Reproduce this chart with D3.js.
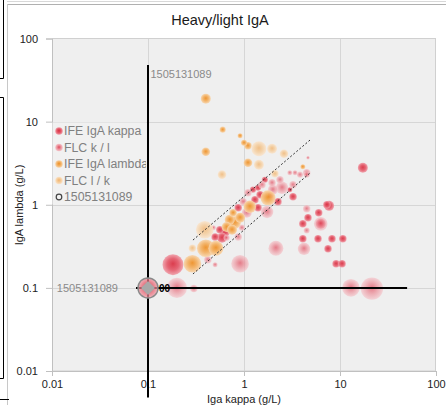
<!DOCTYPE html>
<html><head><meta charset="utf-8">
<script src="https://cdn.jsdelivr.net/npm/d3@7/dist/d3.min.js"></script>
<style>
html,body{margin:0;padding:0;background:#fff;}
svg{display:block;font-family:"Liberation Sans",Arial,Helvetica,sans-serif;}
</style></head>
<body>
<svg id="c" width="446" height="405"></svg>
<script>
// ---------- data ----------
const title = "Heavy/light IgA";
const xTitle = "Iga kappa (g/L)";
const yTitle = "IgA lambda (g/L)";
const tickValues = [0.01, 0.1, 1, 10, 100];
const tickLabels = ["0.01", "0.1", "1", "10", "100"];
const seriesNames = ["IFE IgA kappa", "FLC k / l", "IFE IgA lambda", "FLC l / k", "1505131089"];

// [x, y, size]
const ifeKappa = [
  [1.65,2.0,6],[1.24,1.52,6],[3.0,1.52,4],[1.47,1.32,9],[2.26,1.09,9],[3.24,1.25,9],
  [1.3,1.15,9],[1.4,0.92,9],[0.87,0.92,9],[0.56,0.50,9],[0.63,0.47,16],[0.5,0.41,9],
  [0.59,0.40,16],[7.3,1.0,9],[17.3,2.79,16],[7.7,0.97,16],[6.0,0.80,9],[4.64,0.70,9],
  [4.1,0.59,9],[6.3,0.59,16],[4.1,0.39,9],[5.9,0.39,9],[8.25,0.39,9],[10.7,0.39,9],
  [7.5,0.295,9],[9.1,0.195,9],[10.5,0.195,9],[0.182,0.19,70],[1.4,1.6,6],[1.9,1.3,6]
];
const flcKL = [
  [3.0,2.43,4],[3.4,2.43,4],[3.83,2.3,6],[4.5,2.43,9],[4.64,3.68,2],[1.96,1.84,9],
  [2.37,2.0,9],[1.54,1.74,9],[2.0,1.52,16],[2.49,1.6,25],[3.24,1.74,9],[1.1,1.39,9],
  [0.98,1.09,9],[1.74,0.82,25],[1.07,0.80,16],[0.48,0.53,4],[0.66,0.40,6],[0.87,0.41,9],
  [0.95,0.53,6],[0.42,0.218,9],[0.5,0.19,4],[0.91,0.195,50],[2.15,0.30,36],[4.22,0.295,25],
  [4.5,0.895,9],[4.5,2.3,6],[4.5,0.49,6],[13,0.10,50],[21.5,0.098,80],[0.2,0.10,65],
  [0.30,0.098,9],[6.3,0.59,30]
];
const ifeLambda = [
  [0.40,18.9,16],[0.6,8.0,6],[0.91,6.77,4],[1.0,5.57,6],[1.1,5.13,9],[0.40,4.34,12],
  [1.1,3.2,12],[1.78,1.21,36],[1.15,0.946,25],[0.77,0.80,9],[0.91,0.70,16],[0.71,0.66,16],
  [0.8,0.61,25],[0.66,0.54,16],[0.75,0.50,16],[0.40,0.30,50],[0.51,0.30,36],[0.29,0.195,50],
  [4.1,2.87,4]
];
const flcLK = [
  [1.43,4.72,36],[1.96,4.72,16],[2.61,4.11,12],[1.43,3.03,16],[0.59,2.3,12],[2.1,2.36,9],
  [0.39,0.50,50],[0.29,0.30,9]
];
// highlighted sample
const sampleId = "1505131089";
const samplePoint = [0.1, 0.1];
const sampleXRange = [0.075, 50];
const sampleYRange = [0.0048, 48];
// reference ratio lines (y = k * x)
const ratioLines = [[[0.294,0.376],[4.87,6.0]], [[0.294,0.147],[4.87,2.41]]];

// ---------- layout ----------
const svg = d3.select("#c");
const L = 52, R = 436, T = 38.5, B = 371;
const x = d3.scaleLog().domain([0.01, 100]).range([L, R]);
const y = d3.scaleLog().domain([0.01, 100]).range([B, T]);
const rScale = d3.scaleSqrt().domain([0, 100]).range([0, 12.5]);

// window frame artifacts
svg.append("rect").attr("x",7).attr("y",5).attr("width",439).attr("height",400).attr("fill","#fff");
svg.append("line").attr("x1",7).attr("x2",446).attr("y1",1.5).attr("y2",1.5).attr("stroke","#d8d8d8");
svg.append("line").attr("x1",7).attr("x2",446).attr("y1",4.5).attr("y2",4.5).attr("stroke","#b0b0b0");
svg.append("line").attr("x1",7.5).attr("x2",7.5).attr("y1",4).attr("y2",405).attr("stroke","#c8c8c8");
svg.append("path").attr("d","M3.5,0V78.5H0M0,97.5H3.5V378.5H0M0,399.5H9").attr("fill","none").attr("stroke","#000");

// defs: gradients
const defs = svg.append("defs");
const palettes = {
  kappa:  {c:"#d92e40", m:"#e45a6a", e:"#f0a0aa", op:0.92},
  flcKL:  {c:"#e04a5c", m:"#ec949e", e:"#f4c8cd", op:0.7},
  lambda: {c:"#ee8e22", m:"#f3b266", e:"#f8d6ae", op:0.92},
  flcLK:  {c:"#f1b36e", m:"#f5cd9c", e:"#fae4cc", op:0.8}
};
Object.entries(palettes).forEach(([k,p])=>{
  const g = defs.append("radialGradient").attr("id","g_"+k).attr("cx","50%").attr("cy","50%").attr("r","50%").attr("fx","50%").attr("fy","45%");
  g.append("stop").attr("offset","0%").attr("stop-color",p.c);
  g.append("stop").attr("offset","55%").attr("stop-color",p.m);
  g.append("stop").attr("offset","100%").attr("stop-color",p.e);
});

// plot area
svg.append("rect").attr("x",L).attr("y",T).attr("width",R-L).attr("height",B-T).attr("fill","#efefef");
const grid = svg.append("g").attr("stroke","#d6d6d6").attr("stroke-width",1);
tickValues.slice(1,4).forEach(v=>{
  grid.append("line").attr("x1",Math.round(x(v))+0.5).attr("x2",Math.round(x(v))+0.5).attr("y1",T).attr("y2",B);
  grid.append("line").attr("x1",L).attr("x2",R).attr("y1",Math.round(y(v))+0.5).attr("y2",Math.round(y(v))+0.5);
});
svg.append("rect").attr("x",L+0.5).attr("y",T).attr("width",R-L-1).attr("height",B-T).attr("fill","none").attr("stroke","#d0d0d0");

// axes
const xAxis = d3.axisBottom(x).tickValues(tickValues).tickFormat((d,i)=>tickLabels[i]).tickSize(5).tickPadding(4);
const yAxis = d3.axisLeft(y).tickValues(tickValues).tickFormat((d,i)=>tickLabels[i]).tickSize(6).tickPadding(8);
const gx = svg.append("g").attr("transform",`translate(0,${B})`).call(xAxis);
const gy = svg.append("g").attr("transform",`translate(${L},0)`).call(yAxis);
[gx,gy].forEach(g=>{
  g.select(".domain").attr("stroke","#c0c0c0");
  g.selectAll(".tick line").attr("stroke","#c0c0c0");
  g.selectAll("text").attr("fill","#222").attr("font-size",11).attr("font-family","Liberation Sans, Arial, sans-serif");
});

// title & axis titles
svg.append("text").attr("x",220).attr("y",25).attr("text-anchor","middle").attr("font-size",14.5).attr("fill","#1a1a1a").text(title);
svg.append("text").attr("x",244).attr("y",403).attr("text-anchor","middle").attr("font-size",11).attr("fill","#222").text(xTitle);
svg.append("text").attr("transform","translate(23,205) rotate(-90)").attr("text-anchor","middle").attr("font-size",11).attr("fill","#222").text(yTitle);

// bubbles
function drawSeries(data, key){
  const p = palettes[key];
  const sorted = data.slice().sort((a,b)=>b[2]-a[2]);
  svg.append("g").selectAll("circle").data(sorted).join("circle")
    .attr("cx",d=>x(d[0])).attr("cy",d=>y(d[1])).attr("r",d=>rScale(d[2]))
    .attr("fill",`url(#g_${key})`).attr("fill-opacity",p.op);
}
drawSeries(ifeKappa,"kappa");
drawSeries(flcKL,"flcKL");
drawSeries(ifeLambda,"lambda");
drawSeries(flcLK,"flcLK");

// ratio lines
ratioLines.forEach(seg=>{
  svg.append("line").attr("x1",x(seg[0][0])).attr("y1",y(seg[0][1])).attr("x2",x(seg[1][0])).attr("y2",y(seg[1][1]))
    .attr("stroke","#333").attr("stroke-width",1).attr("stroke-dasharray","2,2");
});

// sample crosshair
const sx = x(samplePoint[0]), sy = y(samplePoint[1]);
svg.append("line").attr("x1",sx).attr("x2",sx).attr("y1",y(sampleYRange[1])).attr("y2",y(sampleYRange[0])).attr("stroke","#000").attr("stroke-width",2);
svg.append("line").attr("x1",x(sampleXRange[0])).attr("x2",x(sampleXRange[1])).attr("y1",sy).attr("y2",sy).attr("stroke","#000").attr("stroke-width",2);
svg.append("circle").attr("cx",sx).attr("cy",sy).attr("r",10).attr("fill","url(#g_kappa)").attr("fill-opacity",0.75).attr("stroke","#8a8a8a").attr("stroke-width",1.5);
svg.append("path").attr("d",`M${sx},${sy-7}L${sx+7},${sy}L${sx},${sy+7}L${sx-7},${sy}Z`).attr("fill","#a8a8a8");
svg.append("text").attr("x",sx+11).attr("y",sy+4).attr("font-size",10).attr("font-weight","bold").attr("fill","#000").text("00");
svg.append("text").attr("x",sx+33).attr("y",y(sampleYRange[1])+13).attr("text-anchor","middle").attr("font-size",11).attr("fill","#8a8a8a").text(sampleId);
svg.append("text").attr("x",sx-30).attr("y",sy+4).attr("text-anchor","end").attr("font-size",11).attr("fill","#8a8a8a").text(sampleId);

// legend
const lg = svg.append("g");
defs.append("clipPath").attr("id","lgclip").append("rect").attr("x",52).attr("y",122).attr("width",94).attr("height",83);
lg.append("rect").attr("x",52.5).attr("y",122.5).attr("width",94).attr("height",82).attr("fill","#f1f1f1");
const legendKeys = ["kappa","flcKL","lambda","flcLK",null];
const lgi = lg.append("g").attr("clip-path","url(#lgclip)");
seriesNames.forEach((n,i)=>{
  const yy = 131 + i*16.5;
  if (legendKeys[i]) {
    lgi.append("circle").attr("cx",59).attr("cy",yy).attr("r",3.8).attr("fill",`url(#g_${legendKeys[i]})`);
  } else {
    lgi.append("circle").attr("cx",59).attr("cy",yy).attr("r",2.8).attr("fill","none").attr("stroke","#444").attr("stroke-width",1.2);
  }
  lgi.append("text").attr("x",64).attr("y",yy+4).attr("font-size",12.3).attr("fill","#808080").text(n);
});
</script>
</body></html>
